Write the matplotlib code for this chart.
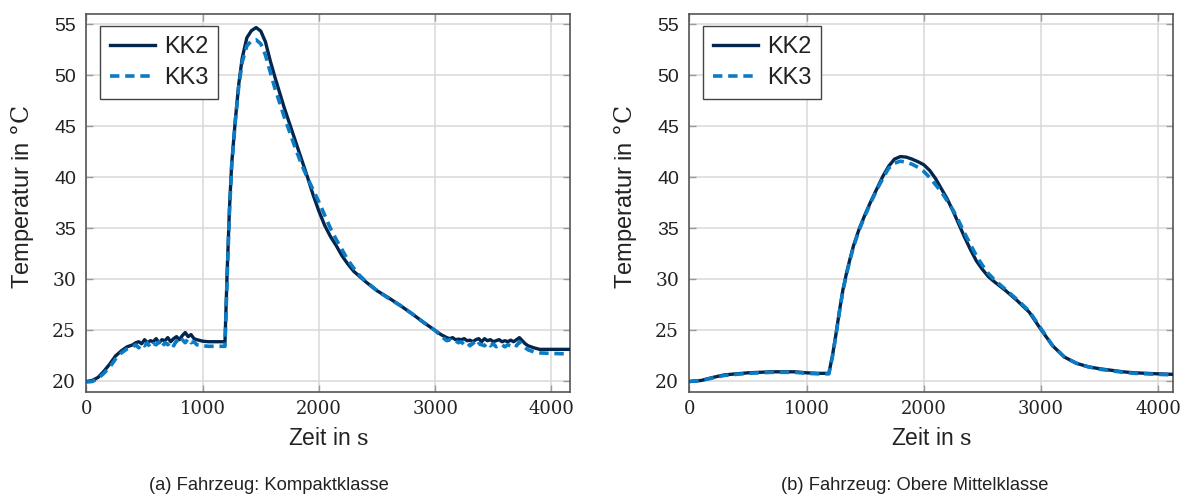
import matplotlib
matplotlib.use("Agg")
import matplotlib.pyplot as plt

plt.rcParams["font.family"] = ["Liberation Sans", "DejaVu Sans"]
plt.rcParams["mathtext.fontset"] = "custom"
plt.rcParams["mathtext.rm"] = "DejaVu Serif"
plt.rcParams["mathtext.it"] = "DejaVu Serif"

# ---------------- data: compact class vehicle ----------------
t_a = [0, 50, 100, 150, 200, 250, 300, 350, 400, 425, 450, 475, 500, 525, 550, 575,
       600, 625, 650, 675, 700, 725, 750, 775, 800, 825, 850, 875, 900, 925, 950,
       1000, 1050, 1100, 1150, 1192, 1210, 1230, 1250, 1280, 1310, 1340, 1380, 1420,
       1460, 1500, 1540, 1580, 1620, 1660, 1700, 1750, 1800, 1850, 1900, 1950, 2000,
       2050, 2100, 2150, 2200, 2250, 2300, 2350, 2400, 2500, 2600, 2700, 2800, 2900,
       3000, 3050, 3100, 3125, 3150, 3175, 3200, 3225, 3250, 3275, 3300, 3325, 3350,
       3375, 3400, 3425, 3450, 3475, 3500, 3525, 3550, 3575, 3600, 3625, 3650, 3675,
       3700, 3725, 3750, 3775, 3800, 3850, 3900, 4000, 4160]
kk2_a = [20.0, 20.1, 20.4, 21.0, 21.7, 22.5, 23.0, 23.4, 23.6, 23.8, 23.9, 23.7, 24.1, 23.8, 24.0, 23.9,
         24.2, 23.8, 24.1, 24.0, 24.3, 23.9, 24.2, 24.4, 24.1, 24.5, 24.8, 24.4, 24.6, 24.2, 24.1,
         23.95, 23.9, 23.9, 23.9, 23.9, 30.5, 36.8, 41.4, 45.5, 49.1, 51.7, 53.7, 54.4,
         54.7, 54.35, 53.3, 51.5, 49.9, 48.4, 46.9, 45.2, 43.5, 41.8, 40.1, 38.3, 36.7,
         35.3, 34.2, 33.3, 32.3, 31.5, 30.8, 30.3, 29.8, 28.9, 28.2, 27.45, 26.65, 25.8,
         25.0, 24.6, 24.3, 24.2, 24.3, 24.1, 24.15, 24.1, 24.2, 24.0, 24.05, 23.9, 24.1,
         24.2, 23.9, 24.2, 24.0, 24.1, 23.9, 24.0, 24.1, 23.9, 24.0, 23.9, 24.05, 23.9,
         24.1, 24.3, 24.0, 23.7, 23.5, 23.3, 23.15, 23.15, 23.15]
kk3_a = [19.95, 20.0, 20.3, 20.8, 21.4, 22.2, 22.8, 23.2, 23.4, 23.6, 23.3, 23.7, 23.5, 23.8, 23.3, 23.7,
         23.6, 23.9, 23.4, 23.8, 23.6, 23.9, 23.5, 24.0, 23.7, 24.1, 23.8, 24.2, 23.8, 23.9, 23.6,
         23.5, 23.45, 23.45, 23.45, 23.45, 30.0, 36.5, 41.2, 45.4, 48.9, 51.3, 52.9, 53.4,
         53.5, 53.1, 52.0, 50.4, 48.8, 47.4, 46.0, 44.4, 42.8, 41.3, 40.0, 38.8, 37.6,
         36.3, 35.0, 33.9, 32.9, 31.9, 31.1, 30.4, 29.85, 28.9, 28.15, 27.45, 26.65, 25.8,
         25.0, 24.45, 24.0, 24.1, 23.9, 24.0, 23.8, 23.9, 23.6, 23.8, 23.5, 23.8, 23.4,
         23.7, 23.6, 23.5, 23.8, 23.5, 23.7, 23.4, 23.6, 23.6, 23.4, 23.6, 23.5, 23.7,
         23.5, 23.9, 23.5, 23.3, 23.1, 22.9, 22.8, 22.75, 22.7]

# ---------------- data: upper mid-size vehicle ----------------
t_b = [0, 100, 200, 300, 400, 500, 600, 700, 800, 900, 1000, 1100, 1190, 1220, 1250, 1280,
       1310, 1340, 1370, 1400, 1450, 1500, 1550, 1600, 1650, 1700, 1750, 1800, 1850, 1900,
       1950, 2000, 2050, 2100, 2150, 2200, 2250, 2300, 2350, 2400, 2450, 2500, 2550, 2600,
       2700, 2800, 2900, 3000, 3100, 3200, 3300, 3400, 3500, 3600, 3700, 3800, 3900, 4000, 4125]
kk2_b = [20.0, 20.1, 20.4, 20.65, 20.75, 20.85, 20.9, 20.95, 20.95, 20.95, 20.85, 20.8, 20.8, 22.5, 24.6, 26.9,
         29.0, 30.6, 32.0, 33.3, 35.0, 36.4, 37.7, 38.9, 40.1, 41.1, 41.8, 42.05, 42.0, 41.8,
         41.55, 41.25, 40.7, 39.9, 38.9, 37.9, 36.7, 35.4, 34.1, 32.9, 31.8, 31.0, 30.3, 29.8,
         28.9, 27.9, 26.8, 25.1, 23.5, 22.4, 21.8, 21.45, 21.25, 21.1, 20.95, 20.85, 20.8, 20.75, 20.7]
kk3_b = [20.0, 20.1, 20.35, 20.6, 20.7, 20.8, 20.85, 20.9, 20.9, 20.9, 20.8, 20.75, 20.75, 22.4, 24.5, 26.8,
         28.9, 30.5, 31.9, 33.2, 34.9, 36.3, 37.6, 38.8, 39.9, 40.9, 41.4, 41.6, 41.5, 41.3,
         41.0, 40.6, 40.0, 39.3, 38.6, 37.7, 36.8, 35.7, 34.5, 33.4, 32.3, 31.4, 30.6, 30.0,
         29.0, 28.0, 26.9, 25.2, 23.5, 22.4, 21.8, 21.45, 21.2, 21.05, 20.9, 20.8, 20.75, 20.7, 20.65]

series_names = ["KK2", "KK3"]
xticks = [0, 1000, 2000, 3000, 4000]
yticks = [20, 25, 30, 35, 40, 45, 50, 55]
captions = ["(a) Fahrzeug: Kompaktklasse", "(b) Fahrzeug: Obere Mittelklasse"]

c_kk2 = "#02264d"
c_kk3 = "#0a7bc4"
c_text = "#222222"
serif = "DejaVu Serif"

fig = plt.figure(figsize=(11.84, 4.96), dpi=100)
ax_a = fig.add_axes([0.073, 0.2103, 0.4084, 0.7609])
ax_b = fig.add_axes([0.5823, 0.2103, 0.4082, 0.7609])

panels = [(ax_a, t_a, kk2_a, kk3_a, 4160), (ax_b, t_b, kk2_b, kk3_b, 4125)]
for ax, t, y2, y3, xmax in panels:
    ax.plot(t, y2, color=c_kk2, lw=2.4, solid_joinstyle="round", label=series_names[0], zorder=3)
    ax.plot(t, y3, color=c_kk3, lw=2.6, ls=(0, (2.6, 1.6)), label=series_names[1], zorder=4)
    ax.set_xlim(0, xmax)
    ax.set_ylim(19.0, 56.0)
    ax.set_xticks(xticks, labels=[str(v) for v in xticks])
    ax.set_yticks(yticks, labels=[str(v) for v in yticks])
    ax.tick_params(axis="x", labelsize=13, pad=6)
    ax.tick_params(axis="y", pad=7.5)
    ax.tick_params(direction="in", length=5, width=1, color="#9a9a9a",
                   top=True, right=True, labelcolor=c_text)
    for lab in ax.get_xticklabels():
        lab.set_fontfamily(serif)
    # lower y labels are set in the serif face, upper ones in the sans face
    for lab, v in zip(ax.get_yticklabels(), yticks):
        if v <= 30:
            lab.set_fontfamily(serif)
            lab.set_fontsize(13.5)
        else:
            lab.set_fontsize(14)
    ax.grid(True, color="#d9d9d9", lw=1.1, zorder=0)
    ax.set_axisbelow(True)
    for s in ax.spines.values():
        s.set_color("#555555")
        s.set_linewidth(1.2)
    ax.set_xlabel(r"Zeit in $\mathrm{s}$", fontsize=16.5, color=c_text)
    ax.xaxis.set_label_coords(0.5, -0.123)
    ax.xaxis.label.set_verticalalignment("center")
    ax.set_ylabel(r"Temperatur in $\mathrm{°C}$", fontsize=17, color=c_text)
    ax.yaxis.set_label_coords(-0.133, 0.515)
    ax.yaxis.label.set_verticalalignment("center")
    leg = ax.legend(loc="upper left", bbox_to_anchor=(0.028, 0.969), borderaxespad=0,
                    fontsize=17, handlelength=1.9, handletextpad=0.38, borderpad=0.42,
                    labelspacing=0.4, fancybox=False, framealpha=1, edgecolor="#444444")
    leg.get_frame().set_linewidth(1.0)
    for txt in leg.get_texts():
        txt.set_color(c_text)

fig.text(0.2268, 0.022, captions[0], ha="center", va="center", fontsize=13.2, color=c_text)
fig.text(0.773, 0.022, captions[1], ha="center", va="center", fontsize=13.2, color=c_text)

fig.savefig("out.png", dpi=100)
